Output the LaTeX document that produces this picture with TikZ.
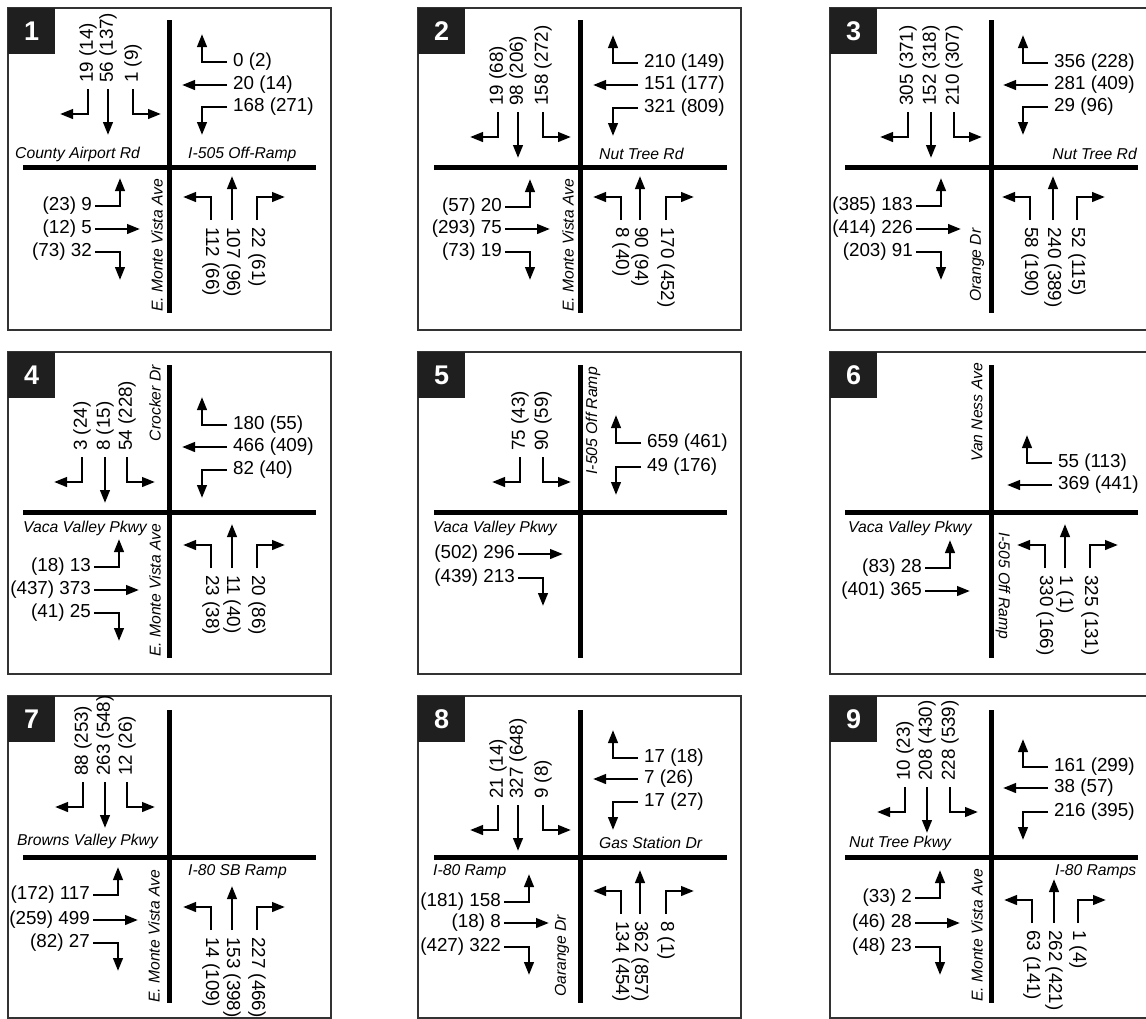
\documentclass[tikz,border=0pt]{standalone}
\usepackage{fontspec}
\setmainfont{Liberation Sans}
\usepackage{tikz}
\usetikzlibrary{arrows.meta}
\newcommand{\volfont}{\fontsize{18.8}{22}\selectfont}
\newcommand{\strfont}{\fontsize{15.7}{19}\selectfont\itshape}
\newcommand{\badgefont}{\fontsize{27}{30}\selectfont\bfseries}
\tikzset{
  road/.style={line width=5pt,draw=black},
  mv/.style={-{Triangle[length=13pt,width=9.5pt]},line width=2.6pt,draw=black,
    line join=miter},
  vol/.style={font=\volfont,inner sep=0pt},
  street/.style={font=\strfont,inner sep=0pt},
  frame/.style={draw=black!80,line width=1.8pt},
  badge/.style={fill=black!88,text=white,font=\badgefont,inner sep=0pt,
    minimum width=47pt,minimum height=46pt}
}
% movement arrows: type (R/T/L), position, position, volume label
\newcommand{\sbmv}[4]{%
  \if#1T\draw[mv] (#2,#3) -- ++(0,46);
  \else\if#1R\draw[mv] (#2,#3) -- ++(0,25) -- ++(-28,0);
  \else\draw[mv] (#2,#3) -- ++(0,25) -- ++(28,0);\fi\fi
  \node[vol,rotate=90,anchor=west] (p\pn sb#1) at (#2,#3-6) {#4};}
\newcommand{\wbmv}[4]{%
  \if#1T\draw[mv] (#2,#3) -- ++(-45,0);
  \else\if#1R\draw[mv] (#2,#3) -- ++(-25,0) -- ++(0,-28);
  \else\draw[mv] (#2,#3) -- ++(-25,0) -- ++(0,28);\fi\fi
  \node[vol,anchor=west] (p\pn wb#1) at (#2+6,#3) {#4};}
\newcommand{\ebmv}[4]{%
  \if#1T\draw[mv] (#2,#3) -- ++(45,0);
  \else\if#1L\draw[mv] (#2,#3) -- ++(25,0) -- ++(0,-28);
  \else\draw[mv] (#2,#3) -- ++(25,0) -- ++(0,28);\fi\fi
  \node[vol,anchor=east] (p\pn eb#1) at (#2-3,#3) {#4};}
\newcommand{\nbmv}[4]{%
  \if#1T\draw[mv] (#2,#3) -- ++(0,-44);
  \else\if#1L\draw[mv] (#2,#3) -- ++(0,-23) -- ++(-28,0);
  \else\draw[mv] (#2,#3) -- ++(0,-23) -- ++(28,0);\fi\fi
  \node[vol,rotate=-90,anchor=west] (p\pn nb#1) at (#2,#3+7) {#4};}
\newcommand{\roads}{%
  \draw[road] (-146,0) -- (147,0);
  \draw[road] (0,-147) -- (0,146);}
\newcommand{\panel}[3]{%
  \draw[frame] (#2,#3) rectangle ++(323,322);
  \node[badge,anchor=north west] (b#1) at (#2,#3) {#1};}

\begin{document}
\begin{tikzpicture}[x=1pt,y=-1pt]
  \useasboundingbox (0,0) rectangle (1146,1018);
  \clip (0,0) rectangle (1146,1018);
  \fill[white] (0,0) rectangle (1146,1018);

  % frames and numbers
  \panel{1}{8}{8}
  \panel{2}{418}{8}
  \panel{3}{830}{8}
  \panel{4}{8}{352}
  \panel{5}{418}{352}
  \panel{6}{830}{352}
  \panel{7}{8}{696}
  \panel{8}{418}{696}
  \panel{9}{830}{696}

  % 1
  \begin{scope}[shift={(169,167)}]
    \def\pn{1}
    \roads
    \sbmv{R}{-81}{-78}{19 (14)}
    \sbmv{T}{-61}{-78}{56 (137)}
    \sbmv{L}{-36}{-78}{1 (9)}
    \wbmv{R}{58}{-105}{0 (2)}
    \wbmv{T}{58}{-82}{20 (14)}
    \wbmv{L}{58}{-60}{168 (271)}
    \ebmv{L}{-74}{39}{(23) 9}
    \ebmv{T}{-74}{62}{(12) 5}
    \ebmv{R}{-74}{85}{(73) 32}
    \nbmv{L}{42}{53}{112 (66)}
    \nbmv{T}{63}{53}{107 (96)}
    \nbmv{R}{88}{53}{22 (61)}
    \node[street,anchor=west] (p1w) at (-154,-13) {County Airport Rd};
    \node[street,anchor=west] (p1e) at (19,-13) {I-505 Off-Ramp};
    \node[street,rotate=90,anchor=west] (p1s) at (-12,145) {E. Monte Vista Ave};
  \end{scope}

  % 2
  \begin{scope}[shift={(580,167)}]
    \def\pn{2}
    \roads
    \sbmv{R}{-82}{-55}{19 (68)}
    \sbmv{T}{-62}{-55}{98 (206)}
    \sbmv{L}{-37}{-55}{158 (272)}
    \wbmv{R}{58}{-104}{210 (149)}
    \wbmv{T}{58}{-82}{151 (177)}
    \wbmv{L}{58}{-59}{321 (809)}
    \ebmv{L}{-75}{40}{(57) 20}
    \ebmv{T}{-75}{62}{(293) 75}
    \ebmv{R}{-75}{85}{(73) 19}
    \nbmv{L}{41}{53}{8 (40)}
    \nbmv{T}{60}{53}{90 (94)}
    \nbmv{R}{86}{53}{170 (452)}
    \node[street,anchor=west] (p2e) at (19,-13) {Nut Tree Rd};
    \node[street,rotate=90,anchor=west] (p2s) at (-12,145) {E. Monte Vista Ave};
  \end{scope}

  % 3
  \begin{scope}[shift={(991,167)}]
    \def\pn{3}
    \roads
    \sbmv{R}{-83}{-55}{305 (371)}
    \sbmv{T}{-60}{-55}{152 (318)}
    \sbmv{L}{-37}{-55}{210 (307)}
    \wbmv{R}{57}{-104}{356 (228)}
    \wbmv{T}{57}{-82}{281 (409)}
    \wbmv{L}{57}{-60}{29 (96)}
    \ebmv{L}{-75}{39}{(385) 183}
    \ebmv{T}{-75}{62}{(414) 226}
    \ebmv{R}{-75}{85}{(203) 91}
    \nbmv{L}{39}{53}{58 (190)}
    \nbmv{T}{62}{53}{240 (389)}
    \nbmv{R}{86}{53}{52 (115)}
    \node[street,anchor=east] (p3e) at (146,-13) {Nut Tree Rd};
    \node[street,rotate=90,anchor=west] (p3s) at (-14,135) {Orange Dr};
  \end{scope}

  % 4
  \begin{scope}[shift={(169,512)}]
    \def\pn{4}
    \roads
    \sbmv{R}{-87}{-55}{3 (24)}
    \sbmv{T}{-64}{-55}{8 (15)}
    \sbmv{L}{-42}{-55}{54 (228)}
    \wbmv{R}{58}{-87}{180 (55)}
    \wbmv{T}{58}{-65}{466 (409)}
    \wbmv{L}{58}{-42}{82 (40)}
    \ebmv{L}{-75}{55}{(18) 13}
    \ebmv{T}{-75}{78}{(437) 373}
    \ebmv{R}{-75}{101}{(41) 25}
    \nbmv{L}{42}{56}{23 (38)}
    \nbmv{T}{63}{56}{11 (40)}
    \nbmv{R}{88}{56}{20 (86)}
    \node[street,rotate=90,anchor=east] (p4n) at (-14,-147) {Crocker Dr};
    \node[street,anchor=west] (p4w) at (-146,16) {Vaca Valley Pkwy};
    \node[street,rotate=90,anchor=west] (p4s) at (-14,145) {E. Monte Vista Ave};
  \end{scope}

  % 5
  \begin{scope}[shift={(580,512)}]
    \def\pn{5}
    \roads
    \sbmv{R}{-60}{-55}{75 (43)}
    \sbmv{L}{-37}{-55}{90 (59)}
    \wbmv{R}{61}{-69}{659 (461)}
    \wbmv{L}{61}{-45}{49 (176)}
    \ebmv{T}{-62}{42}{(502) 296}
    \ebmv{R}{-62}{66}{(439) 213}
    \node[street,anchor=west] (p5w) at (-147,16) {Vaca Valley Pkwy};
    \node[street,rotate=90,anchor=east] (p5n) at (13,-145) {I-505 Off Ramp};
  \end{scope}

  % 6
  \begin{scope}[shift={(991,512)}]
    \def\pn{6}
    \roads
    \wbmv{R}{61}{-49}{55 (113)}
    \wbmv{T}{61}{-27}{369 (441)}
    \ebmv{L}{-66}{56}{(83) 28}
    \ebmv{T}{-66}{79}{(401) 365}
    \nbmv{L}{54}{56}{330 (166)}
    \nbmv{T}{74}{56}{1 (1)}
    \nbmv{R}{99}{56}{325 (131)}
    \node[street,rotate=90,anchor=east] (p6n) at (-14,-149) {Van Ness Ave};
    \node[street,anchor=west] (p6w) at (-143,16) {Vaca Valley Pkwy};
    \node[street,rotate=-90,anchor=west] (p6s) at (12,20) {I-505 Off Ramp};
  \end{scope}

  % 7
  \begin{scope}[shift={(169,857)}]
    \def\pn{7}
    \roads
    \sbmv{R}{-86}{-75}{88 (253)}
    \sbmv{T}{-64}{-75}{263 (548)}
    \sbmv{L}{-42}{-75}{12 (26)}
    \ebmv{L}{-76}{38}{(172) 117}
    \ebmv{T}{-76}{63}{(259) 499}
    \ebmv{R}{-76}{86}{(82) 27}
    \nbmv{L}{42}{73}{14 (109)}
    \nbmv{T}{63}{73}{153 (398)}
    \nbmv{R}{88}{73}{227 (466)}
    \node[street,anchor=west] (p7w) at (-152,-16) {Browns Valley Pkwy};
    \node[street,anchor=west] (p7e) at (19,15) {I-80 SB Ramp};
    \node[street,rotate=90,anchor=west] (p7s) at (-15,146) {E. Monte Vista Ave};
  \end{scope}

  % 8
  \begin{scope}[shift={(580,857)}]
    \def\pn{8}
    \roads
    \sbmv{R}{-82}{-52}{21 (14)}
    \sbmv{T}{-62}{-52}{327 (648)}
    \sbmv{L}{-37}{-52}{9 (8)}
    \wbmv{R}{58}{-99}{17 (18)}
    \wbmv{T}{58}{-78}{7 (26)}
    \wbmv{L}{58}{-55}{17 (27)}
    \ebmv{L}{-76}{45}{(181) 158}
    \ebmv{T}{-76}{66}{(18) 8}
    \ebmv{R}{-76}{90}{(427) 322}
    \nbmv{L}{41}{57}{134 (454)}
    \nbmv{T}{60}{57}{362 (857)}
    \nbmv{R}{86}{57}{8 (1)}
    \node[street,anchor=west] (p8e) at (19,-14) {Gas Station Dr};
    \node[street,anchor=west] (p8w) at (-147,15) {I-80 Ramp};
    \node[street,rotate=90,anchor=west] (p8s) at (-18,140) {Oarange Dr};
  \end{scope}

  % 9
  \begin{scope}[shift={(991,857)}]
    \def\pn{9}
    \roads
    \sbmv{R}{-86}{-70}{10 (23)}
    \sbmv{T}{-64}{-70}{208 (430)}
    \sbmv{L}{-41}{-70}{228 (539)}
    \wbmv{R}{57}{-90}{161 (299)}
    \wbmv{T}{57}{-69}{38 (57)}
    \wbmv{L}{57}{-45}{216 (395)}
    \ebmv{L}{-76}{41}{(33) 2}
    \ebmv{T}{-76}{66}{(46) 28}
    \ebmv{R}{-76}{90}{(48) 23}
    \nbmv{L}{41}{66}{63 (141)}
    \nbmv{T}{63}{66}{262 (421)}
    \nbmv{R}{87}{66}{1 (4)}
    \node[street,anchor=west] (p9w) at (-142,-14) {Nut Tree Pkwy};
    \node[street,anchor=west] (p9e) at (64,15) {I-80 Ramps};
    \node[street,rotate=90,anchor=west] (p9s) at (-14,145) {E. Monte Vista Ave};
  \end{scope}
\end{tikzpicture}
\end{document}
